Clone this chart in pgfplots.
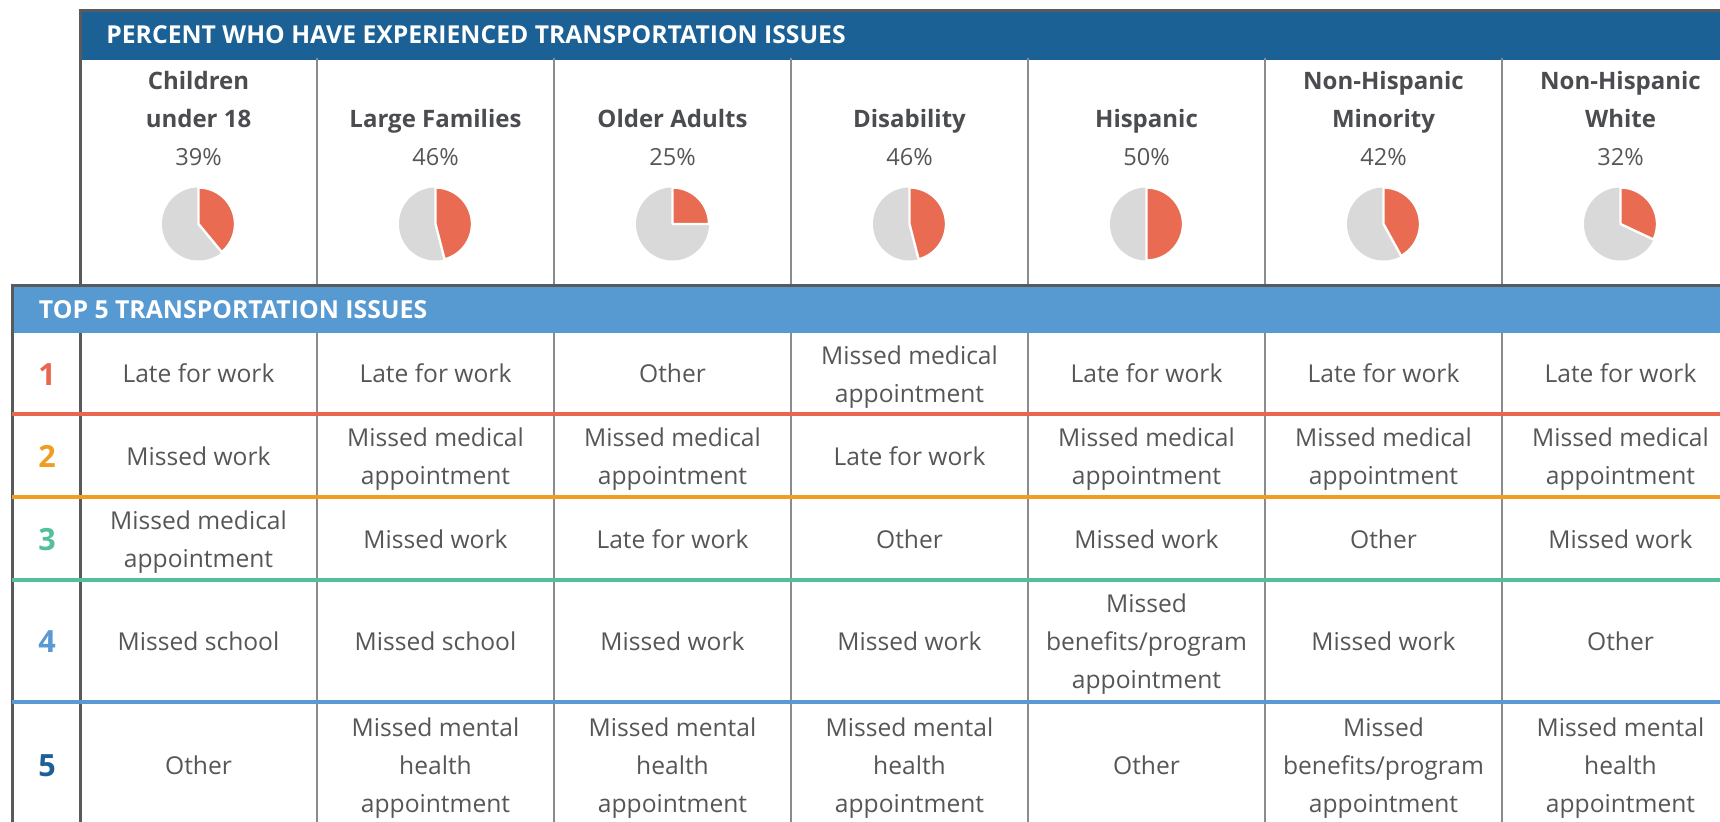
\documentclass[border=0pt]{standalone}
\usepackage{pgfplots}
\pgfplotsset{compat=1.18}
\usepackage{fontspec}
\setmainfont{Open Sans}
\definecolor{frame}{HTML}{595A5C}
\definecolor{sepg}{HTML}{898B8E}
\definecolor{hdblue}{HTML}{1B6195}
\definecolor{ltblue}{HTML}{5799D1}
\definecolor{pieor}{HTML}{E96B52}
\definecolor{piegr}{HTML}{D9D9D9}
\definecolor{lred}{HTML}{E8674E}
\definecolor{lorange}{HTML}{F19D24}
\definecolor{lgreen}{HTML}{55BF9C}
\definecolor{lblue}{HTML}{5A99D3}
\definecolor{ndblue}{HTML}{1F5F96}
\definecolor{bodytxt}{HTML}{555658}
\definecolor{headtxt}{HTML}{4A4C4F}

% pie: centre x (px), percent
\newcommand{\pie}[2]{%
  \addplot[fill=piegr, draw=none, domain=0:360, samples=121]
    ({#1+36.5*sin(x)},{224-36.5*cos(x)}) -- cycle;
  \addplot[fill=pieor, draw=white, line width=1.2pt, line join=round, domain=0:{3.6*#2}, samples=61]
    ({#1+36.5*sin(x)},{224-36.5*cos(x)}) -- (axis cs:#1,224) -- cycle;
}
\newcommand{\fbody}{\color{bodytxt}\fontsize{12.3}{19}\selectfont}
\tikzset{cell/.style={anchor=base, inner sep=0pt, font=\fbody}}
\newcommand{\cone}[3]{\node[cell] at ({#1},{#2+9.5}) {#3};}
\newcommand{\ctwo}[4]{\node[cell] at ({#1},{#2-9.5}) {#3};\node[cell] at ({#1},{#2+28.5}) {#4};}
\newcommand{\cthree}[5]{\node[cell] at ({#1},{#2-28.5}) {#3};\node[cell] at ({#1},{#2+9.5}) {#4};\node[cell] at ({#1},{#2+47.5}) {#5};}

\begin{document}
\begin{tikzpicture}
\begin{axis}[
  width=860pt, height=410.5pt, scale only axis,
  xmin=0, xmax=1720, ymin=0, ymax=821, y dir=reverse,
  hide axis, clip=false]
  \pie{198.5}{39}
  \pie{435.5}{46}
  \pie{672.5}{25}
  \pie{909.5}{46}
  \pie{1146.5}{50}
  \pie{1383.5}{42}
  \pie{1620.5}{32}
\end{axis}
\begin{scope}[shift={(current axis.north west)}, x=0.5pt, y=-0.5pt]
  % upper section
  \fill[hdblue] (80,11) rectangle (1720,60);
  \foreach \xx in {317,554,791,1028,1265,1502}
    \draw[sepg, line width=1.25pt] (\xx,58) -- (\xx,286);
  \draw[frame, line width=1.5pt] (80,286) -- (80,11) -- (1721,11);
  % lower section
  \fill[ltblue] (12,286) rectangle (1720,333);
  \foreach \xx in {317,554,791,1028,1265,1502}
    \draw[sepg, line width=1.25pt] (\xx,333) -- (\xx,822);
  \draw[frame, line width=1.5pt] (80,333) -- (80,822);
  \draw[frame, line width=1.5pt] (12,822) -- (12,286) -- (1721,286);
  \draw[lred, line width=2pt] (12,414) -- (1721,414);
  \draw[lorange, line width=2pt] (12,497) -- (1721,497);
  \draw[lgreen, line width=2pt] (12,580) -- (1721,580);
  \draw[lblue, line width=2pt] (12,702) -- (1721,702);
  % titles
  \node[anchor=base west, inner sep=0pt, text=white, font=\bfseries\fontsize{12.35}{14}\selectfont] at (106,43.3) {PERCENT WHO HAVE EXPERIENCED TRANSPORTATION ISSUES};
  \node[anchor=base west, inner sep=0pt, text=white, font=\bfseries\fontsize{12.4}{14}\selectfont] at (38.5,318.3) {TOP 5 TRANSPORTATION ISSUES};
  % group names
  \tikzset{gname/.style={anchor=base, inner sep=0pt, text=headtxt, font=\bfseries\fontsize{12}{14}\selectfont},
           pct/.style={anchor=base, inner sep=0pt, text=bodytxt, font=\fontsize{11.8}{14}\selectfont}}
  \node[gname] at (198.5,90) {Children};
  \node[gname] at (198.5,127.7) {under 18};
  \node[gname] at (435.5,127.7) {Large Families};
  \node[gname] at (672.5,127.7) {Older Adults};
  \node[gname] at (909.5,127.7) {Disability};
  \node[gname] at (1146.5,127.7) {Hispanic};
  \node[gname] at (1383.5,90) {Non-Hispanic};
  \node[gname] at (1383.5,127.7) {Minority};
  \node[gname] at (1620.5,90) {Non-Hispanic};
  \node[gname] at (1620.5,127.7) {White};
  \node[pct] at (198.5,165.7) {39\%};
  \node[pct] at (435.5,165.7) {46\%};
  \node[pct] at (672.5,165.7) {25\%};
  \node[pct] at (909.5,165.7) {46\%};
  \node[pct] at (1146.5,165.7) {50\%};
  \node[pct] at (1383.5,165.7) {42\%};
  \node[pct] at (1620.5,165.7) {32\%};
  % rank numbers
  \tikzset{rk/.style={anchor=base, inner sep=0pt, font=\bfseries\fontsize{15.3}{18}\selectfont}}
  \node[rk, text=lred] at (47,385) {1};
  \node[rk, text=lorange] at (47,467) {2};
  \node[rk, text=lgreen] at (47,550) {3};
  \node[rk, text=lblue] at (47,652.5) {4};
  \node[rk, text=ndblue] at (47,776.5) {5};
  % row 1
  \cone{198.5}{373.5}{Late for work}
  \cone{435.5}{373.5}{Late for work}
  \cone{672.5}{373.5}{Other}
  \ctwo{909.5}{373.5}{Missed medical}{appointment}
  \cone{1146.5}{373.5}{Late for work}
  \cone{1383.5}{373.5}{Late for work}
  \cone{1620.5}{373.5}{Late for work}
  % row 2
  \cone{198.5}{455.5}{Missed work}
  \ctwo{435.5}{455.5}{Missed medical}{appointment}
  \ctwo{672.5}{455.5}{Missed medical}{appointment}
  \cone{909.5}{455.5}{Late for work}
  \ctwo{1146.5}{455.5}{Missed medical}{appointment}
  \ctwo{1383.5}{455.5}{Missed medical}{appointment}
  \ctwo{1620.5}{455.5}{Missed medical}{appointment}
  % row 3
  \ctwo{198.5}{538.5}{Missed medical}{appointment}
  \cone{435.5}{538.5}{Missed work}
  \cone{672.5}{538.5}{Late for work}
  \cone{909.5}{538.5}{Other}
  \cone{1146.5}{538.5}{Missed work}
  \cone{1383.5}{538.5}{Other}
  \cone{1620.5}{538.5}{Missed work}
  % row 4
  \cone{198.5}{641}{Missed school}
  \cone{435.5}{641}{Missed school}
  \cone{672.5}{641}{Missed work}
  \cone{909.5}{641}{Missed work}
  \cthree{1146.5}{641}{Missed}{benefits/program}{appointment}
  \cone{1383.5}{641}{Missed work}
  \cone{1620.5}{641}{Other}
  % row 5
  \cone{198.5}{764.5}{Other}
  \cthree{435.5}{764.5}{Missed mental}{health}{appointment}
  \cthree{672.5}{764.5}{Missed mental}{health}{appointment}
  \cthree{909.5}{764.5}{Missed mental}{health}{appointment}
  \cone{1146.5}{764.5}{Other}
  \cthree{1383.5}{764.5}{Missed}{benefits/program}{appointment}
  \cthree{1620.5}{764.5}{Missed mental}{health}{appointment}
\end{scope}
\pgfresetboundingbox
\useasboundingbox (current axis.south west) rectangle (current axis.north east);
\end{tikzpicture}
\end{document}
